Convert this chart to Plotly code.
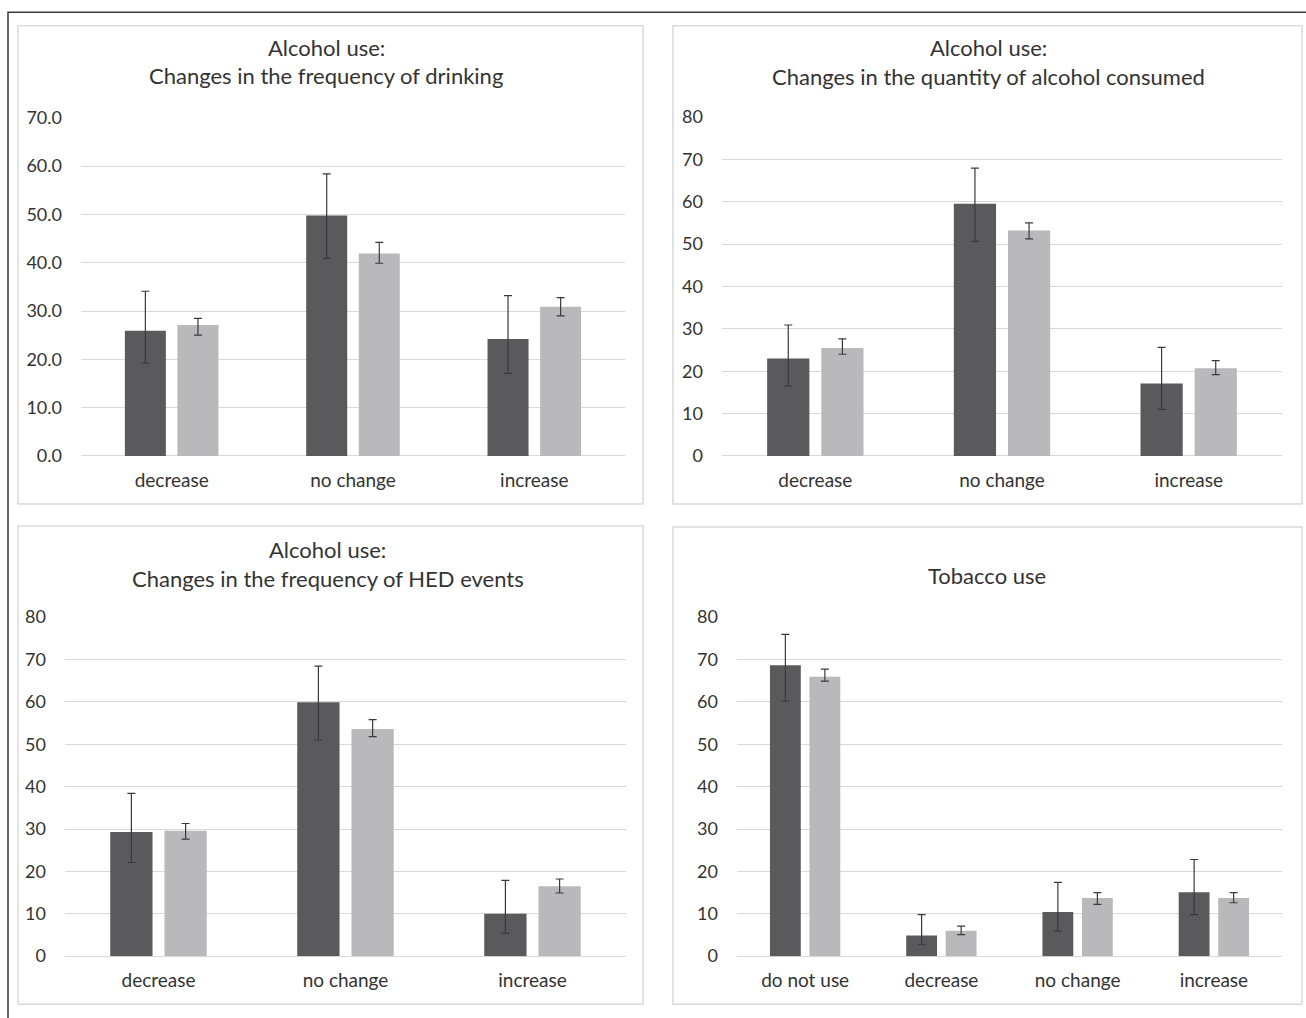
import plotly.graph_objects as go

W, H = 1306, 1018

# ---------------- data ----------------
titles = [
    ["Alcohol use:", "Changes in the frequency of drinking"],
    ["Alcohol use:", "Changes in the quantity of alcohol consumed"],
    ["Alcohol use:", "Changes in the frequency of HED events"],
    ["Tobacco use"],
]

cats_alcohol = ["decrease", "no change", "increase"]
cats_tobacco = ["do not use", "decrease", "no change", "increase"]

# panel 1: frequency of drinking
p1_dark = [25.9, 49.8, 24.2]
p1_dark_hi = [34.1, 58.4, 33.2]
p1_dark_lo = [19.2, 40.9, 17.1]
p1_light = [27.1, 41.9, 30.9]
p1_light_hi = [28.5, 44.2, 32.8]
p1_light_lo = [25.0, 39.9, 29.0]

# panel 2: quantity of alcohol consumed
p2_dark = [23.0, 59.5, 17.1]
p2_dark_hi = [30.9, 67.9, 25.6]
p2_dark_lo = [16.5, 50.6, 11.0]
p2_light = [25.5, 53.2, 20.7]
p2_light_hi = [27.6, 55.0, 22.5]
p2_light_lo = [24.0, 51.2, 19.2]

# panel 3: frequency of HED events
p3_dark = [29.3, 59.9, 10.0]
p3_dark_hi = [38.4, 68.4, 17.9]
p3_dark_lo = [22.1, 51.0, 5.4]
p3_light = [29.6, 53.6, 16.5]
p3_light_hi = [31.3, 55.8, 18.2]
p3_light_lo = [27.6, 51.8, 14.9]

# panel 4: tobacco use
p4_dark = [68.6, 4.9, 10.4, 15.1]
p4_dark_hi = [75.9, 9.8, 17.4, 22.8]
p4_dark_lo = [60.2, 2.7, 5.9, 9.8]
p4_light = [65.9, 6.0, 13.7, 13.7]
p4_light_hi = [67.7, 7.1, 15.0, 15.0]
p4_light_lo = [64.9, 5.1, 12.2, 12.6]

y_max = [70, 80, 80, 80]
y_dtick = [10, 10, 10, 10]
y_fmt = [".1f", "d", "d", "d"]

# ---------------- layout geometry (pixels) ----------------
# plot-area boxes: x0, x1, ytop, ybottom
plot_px = [
    (81, 625, 117, 455),
    (722, 1282, 116, 455),
    (65, 626, 616, 955),
    (737, 1282, 616, 955),
]
panel_px = [
    (18, 643, 25, 503),
    (673, 1302, 25, 503),
    (18, 643, 525, 1003),
    (673, 1302, 526, 1003),
]
title_px = [
    (326, [47, 75]),
    (988, [47, 76]),
    (328, [548, 577]),
    (987, [574]),
]

DARK = "#5a5a5d"
LIGHT = "#b9b9bb"
ERR = "#3a3a3a"
GRID = "#d9d9d9"
TXT = "#333333"
FONT = "Lato"

# vertical spread around the page centre (compensates the slight vertical
# squeeze observed in the rendered screenshot)
VSCALE = 1 / 0.978

panels = [
    (cats_alcohol, p1_dark, p1_dark_hi, p1_dark_lo, p1_light, p1_light_hi, p1_light_lo),
    (cats_alcohol, p2_dark, p2_dark_hi, p2_dark_lo, p2_light, p2_light_hi, p2_light_lo),
    (cats_alcohol, p3_dark, p3_dark_hi, p3_dark_lo, p3_light, p3_light_hi, p3_light_lo),
    (cats_tobacco, p4_dark, p4_dark_hi, p4_dark_lo, p4_light, p4_light_hi, p4_light_lo),
]

fig = go.Figure()


def px_x(v):
    return v / W


def px_y(v):
    v = H / 2 + (v - H / 2) * VSCALE
    return 1 - v / H


layout = {}
for i, (cats, d, dhi, dlo, l, lhi, llo) in enumerate(panels):
    n = "" if i == 0 else str(i + 1)
    xa, ya = "x" + n, "y" + n
    for vals, hi, lo, col in ((d, dhi, dlo, DARK), (l, lhi, llo, LIGHT)):
        fig.add_trace(go.Bar(
            x=cats, y=vals, xaxis=xa, yaxis=ya,
            marker=dict(color=col, line=dict(width=0)),
            error_y=dict(
                type="data", symmetric=False,
                array=[h - v for h, v in zip(hi, vals)],
                arrayminus=[v - lo_ for lo_, v in zip(lo, vals)],
                color=ERR, thickness=1.2, width=4,
            ),
            showlegend=False, hoverinfo="skip",
        ))
    x0, x1, yt, yb = plot_px[i]
    layout["xaxis" + n] = dict(
        domain=[px_x(x0), px_x(x1)], anchor=ya, type="category",
        range=[-0.5, len(cats) - 0.5],
        showgrid=False, zeroline=False, showline=False, ticks="",
        tickfont=dict(family=FONT, size=19, color=TXT),
        ticklabelstandoff=11, fixedrange=True,
    )
    layout["yaxis" + n] = dict(
        domain=[px_y(yb), px_y(yt)], anchor=xa,
        range=[0, y_max[i]], dtick=y_dtick[i], tick0=0, tickformat=y_fmt[i],
        showgrid=True, gridcolor=GRID, gridwidth=1,
        zeroline=True, zerolinecolor=GRID, zerolinewidth=1,
        showline=False, ticks="",
        tickfont=dict(family=FONT, size=18, color=TXT),
        ticklabelstandoff=18, fixedrange=True,
    )

shapes = [
    # outer frame (partially cropped in the original)
    dict(type="rect", xref="paper", yref="paper",
         x0=px_x(8), x1=px_x(1320), y0=-0.05, y1=px_y(11.5),
         line=dict(color="#3a3a3a", width=1.5), layer="below"),
]
for (a, b, t, bt) in panel_px:
    shapes.append(dict(type="rect", xref="paper", yref="paper",
                       x0=px_x(a), x1=px_x(b), y0=px_y(bt), y1=px_y(t),
                       line=dict(color=GRID, width=1.5), layer="below"))

annotations = []
for (cx, ys), lines in zip(title_px, titles):
    for yy, txt in zip(ys, lines):
        annotations.append(dict(
            text=txt, x=px_x(cx), y=px_y(yy), xref="paper", yref="paper",
            xanchor="center", yanchor="middle", showarrow=False,
            font=dict(family=FONT, size=22, color=TXT),
        ))

fig.update_layout(
    width=W, height=H,
    margin=dict(l=0, r=0, t=0, b=0),
    paper_bgcolor="white", plot_bgcolor="rgba(0,0,0,0)",
    barmode="group", bargap=0.42, bargroupgap=0.22,
    shapes=shapes, annotations=annotations,
    font=dict(family=FONT, color=TXT),
    **layout,
)

fig.write_html(
    "out.html",
    config={"displayModeBar": False},
    post_script="document.body.style.margin='0px';document.body.style.overflow='hidden';",
)
